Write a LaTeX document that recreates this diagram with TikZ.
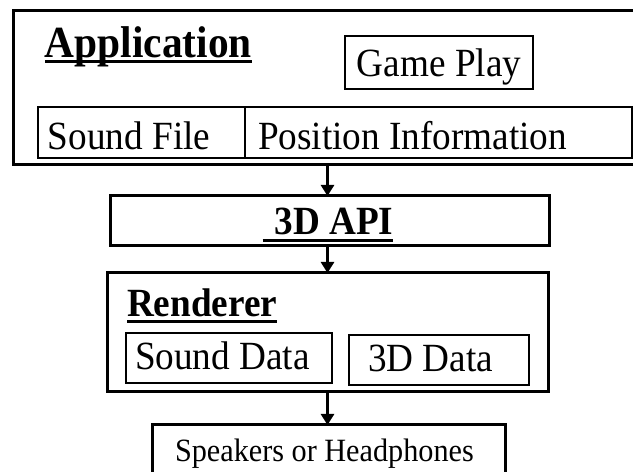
\documentclass[tikz,border=0pt]{standalone}
\usepackage{fontspec}
\setmainfont{Liberation Serif}
\newfontfamily\tallserif[FakeStretch=0.93]{Liberation Serif}
\usetikzlibrary{arrows.meta}
\newcommand{\lbox}[2]{\makebox[#1][l]{#2}}
\tikzset{
  bigbox/.style={draw, line width=3pt, outer sep=0pt, inner sep=0pt, anchor=north west},
  cell/.style={draw, line width=1.3pt, outer sep=0pt, inner ysep=0pt, anchor=north west, font=\tallserif\fontsize{40}{43}\selectfont},
  title/.style={inner sep=0pt, outer sep=0pt, anchor=base west, font=\tallserif\fontsize{40}{43}\selectfont\bfseries},
  uline/.style={line width=3pt},
  arr/.style={line width=2.6pt, -{Triangle[length=11pt,width=13pt]}}
}
\begin{document}
\begin{tikzpicture}[x=1pt,y=1pt]
\useasboundingbox (0,0) rectangle (633,472);
\clip (0,0) rectangle (633,472);
% Application container
\node[bigbox, minimum width=623pt, minimum height=154pt] (app) at (13,461) {};
\node[title, font=\tallserif\fontsize{44.5}{48}\selectfont\bfseries] (apptitle) at (45,414) {Application};
\draw[uline] ([yshift=-4pt]apptitle.base west) -- ([yshift=-4pt]apptitle.base east);
\node[cell, inner xsep=0pt, minimum width=188pt, text height=41pt, text depth=12pt] (game) at (345,436) {Game Play};
\node[cell, inner xsep=10pt, text height=43pt, text depth=8pt] (sfile) at (38,365) {\lbox{187pt}{Sound File}};
\node[cell, inner xsep=13pt, text height=43pt, text depth=8pt] (pos) at (245,365) {\lbox{361pt}{Position Information}};
% 3D API
\node[bigbox, minimum width=439pt, minimum height=50pt] (api) at (110,276) {};
\node[title, anchor=base] (apititle) at (328,237) {\hspace*{12pt}3D API};
\draw[uline] ([yshift=-6pt]apititle.base west) -- ([yshift=-6pt]apititle.base east);
% Renderer
\node[bigbox, minimum width=441pt, minimum height=119pt] (rend) at (107,199) {};
\node[title] (rendtitle) at (127,155) {Renderer};
\draw[uline] ([yshift=-5pt]rendtitle.base west) -- ([yshift=-5pt]rendtitle.base east);
\node[cell, inner xsep=9pt, text height=37pt, text depth=13pt] (sdata) at (126,139) {\lbox{188pt}{Sound Data}};
\node[cell, inner xsep=19pt, text height=37pt, text depth=13pt] (ddata) at (349,137) {\lbox{142pt}{3D Data}};
% Speakers
\node[cell, line width=3pt, inner xsep=23pt, text height=37pt, text depth=18pt, font=\tallserif\fontsize{32.5}{35}\selectfont] (spk) at (152,47) {\lbox{307pt}{Speakers or Headphones}};
% arrows
\draw[arr] (app.south -| rend.north) -- (api.north -| rend.north);
\draw[arr] (api.south -| rend.north) -- (rend.north);
\draw[arr] (rend.south) -- (spk.north -| rend.south);
\end{tikzpicture}
\end{document}
